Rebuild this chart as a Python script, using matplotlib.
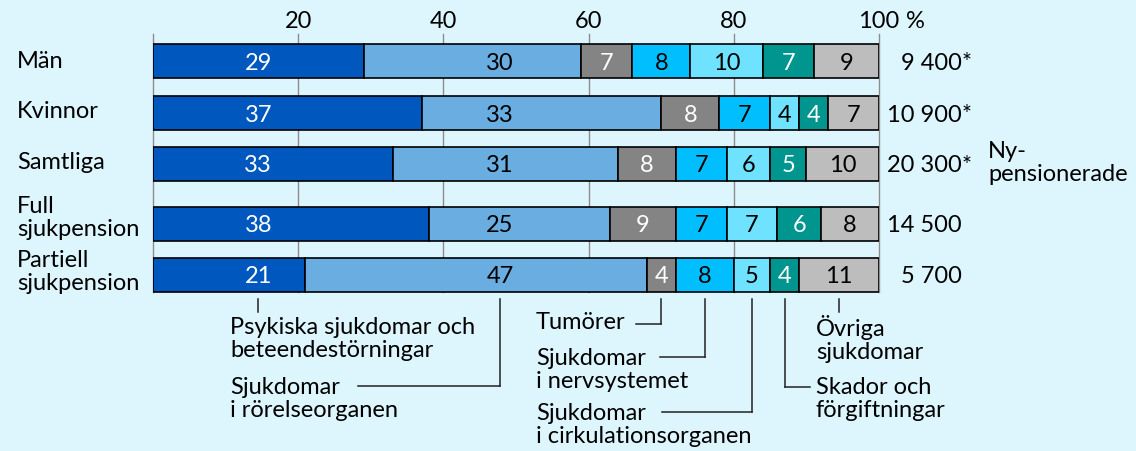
import matplotlib
matplotlib.use("Agg")
import matplotlib.pyplot as plt
import numpy as np

plt.rcParams['font.family'] = ['Lato', 'DejaVu Sans']

# Data
grupper = ["Män", "Kvinnor", "Samtliga", "Full\nsjukpension", "Partiell\nsjukpension"]
antal = ["9 400", "10 900", "20 300", "14 500", "5 700"]
stjarna = [True, True, True, False, False]
diagnoser = ["Psykiska sjukdomar och\nbeteendestörningar",
             "Sjukdomar\ni rörelseorganen",
             "Tumörer",
             "Sjukdomar\ni nervsystemet",
             "Sjukdomar\ni cirkulationsorganen",
             "Skador och\nförgiftningar",
             "Övriga\nsjukdomar"]
andelar = np.array([
    [29, 30, 7, 8, 10, 7, 9],
    [37, 33, 8, 7, 4, 4, 7],
    [33, 31, 8, 7, 6, 5, 10],
    [38, 25, 9, 7, 7, 6, 8],
    [21, 47, 4, 8, 5, 4, 11],
])

farger = ["#0057BE", "#6AADE0", "#848484", "#00BEFF", "#6FE2FF", "#00958F", "#BDBDBD"]
textfarg = ["white", "black", "white", "black", "black", "white", "black"]
bg = "#DDF6FE"

# layout (pixel units, y downward)
W, H = 1136, 452
x0, x1 = 153, 879
ypos = [62, 114, 164.5, 225, 276]
label_y = [62, 112, 163, 218, 272]
bar_h = 34
fast_x = [14.5, 47.8]  # fixed positions for the first two labels

fig = plt.figure(figsize=(W / 100, H / 100), dpi=100)
fig.patch.set_facecolor(bg)
ax = fig.add_axes([x0 / W, 0, (x1 - x0) / W, 1])
ax.set_facecolor(bg)
ax.set_xlim(0, 100)
ax.set_ylim(H, 0)
for s in ax.spines.values():
    s.set_visible(False)
ax.set_xticks([])
ax.set_yticks([])

px = (x1 - x0) / 100.0  # pixels per percent
fs = 17
ls = 1.15

# gridlines + tick labels
for t in [0, 20, 40, 60, 80, 100]:
    ax.plot([t, t], [35, 293], color="#8C8C8C", lw=1, zorder=1, clip_on=False)
    if t > 0:
        ax.text(t, 21, str(t), ha="center", va="center", fontsize=fs, clip_on=False)
ax.text(100 + 27 / px, 21, "%", ha="left", va="center", fontsize=fs, clip_on=False)

# bars
for i, rad in enumerate(andelar):
    left = 0
    for j, v in enumerate(rad):
        ax.barh(ypos[i], v, left=left, height=bar_h, color=farger[j],
                edgecolor="black", linewidth=1.2, zorder=2)
        xt = fast_x[j] if j < 2 else left + v / 2
        ax.text(xt, ypos[i] + 1, str(v), ha="center", va="center",
                color=textfarg[j], fontsize=fs, zorder=3)
        left += v
    # group label
    ax.text((17 - x0) / px, label_y[i], grupper[i], ha="left", va="center",
            fontsize=fs, linespacing=ls, clip_on=False)
    # count
    ax.text((962 - x0) / px, ypos[i] + 1, antal[i], ha="right", va="center",
            fontsize=fs, clip_on=False)
    if stjarna[i]:
        ax.text((962 - x0) / px, ypos[i] + 1, "*", ha="left", va="center",
                fontsize=fs, clip_on=False)

ax.text((988 - x0) / px, 163, "Ny-\npensionerade", ha="left", va="center",
        fontsize=fs, linespacing=ls, clip_on=False)

# leader lines for the legend
cum = np.cumsum(andelar[-1]) - andelar[-1] / 2
lx = fast_x + list(cum[2:])
lc = "#222222"
lw = 1.1


def lp(x_px):
    return (x_px - x0) / px


# (vertical end y, horizontal end x in px or None)
ledare = [(313, None), (387, 358), (325, 636), (358, 660), (413, 662), (388, 810), (313, None)]
for k, (yend, hx) in enumerate(ledare):
    ax.plot([lx[k], lx[k]], [300, yend], color=lc, lw=lw, clip_on=False)
    if hx is not None:
        ax.plot([lx[k], lp(hx)], [yend, yend], color=lc, lw=lw, clip_on=False)

# legend texts: (x px, y px of centre)
txtpos = [(230, 339), (230, 399), (536, 323), (536, 370), (536, 425), (816, 399), (816, 339)]
for k, (tx, ty) in enumerate(txtpos):
    ax.text(lp(tx), ty, diagnoser[k], ha="left", va="center",
            fontsize=fs, linespacing=ls, clip_on=False)

fig.savefig("out.png", dpi=100, facecolor=bg)
